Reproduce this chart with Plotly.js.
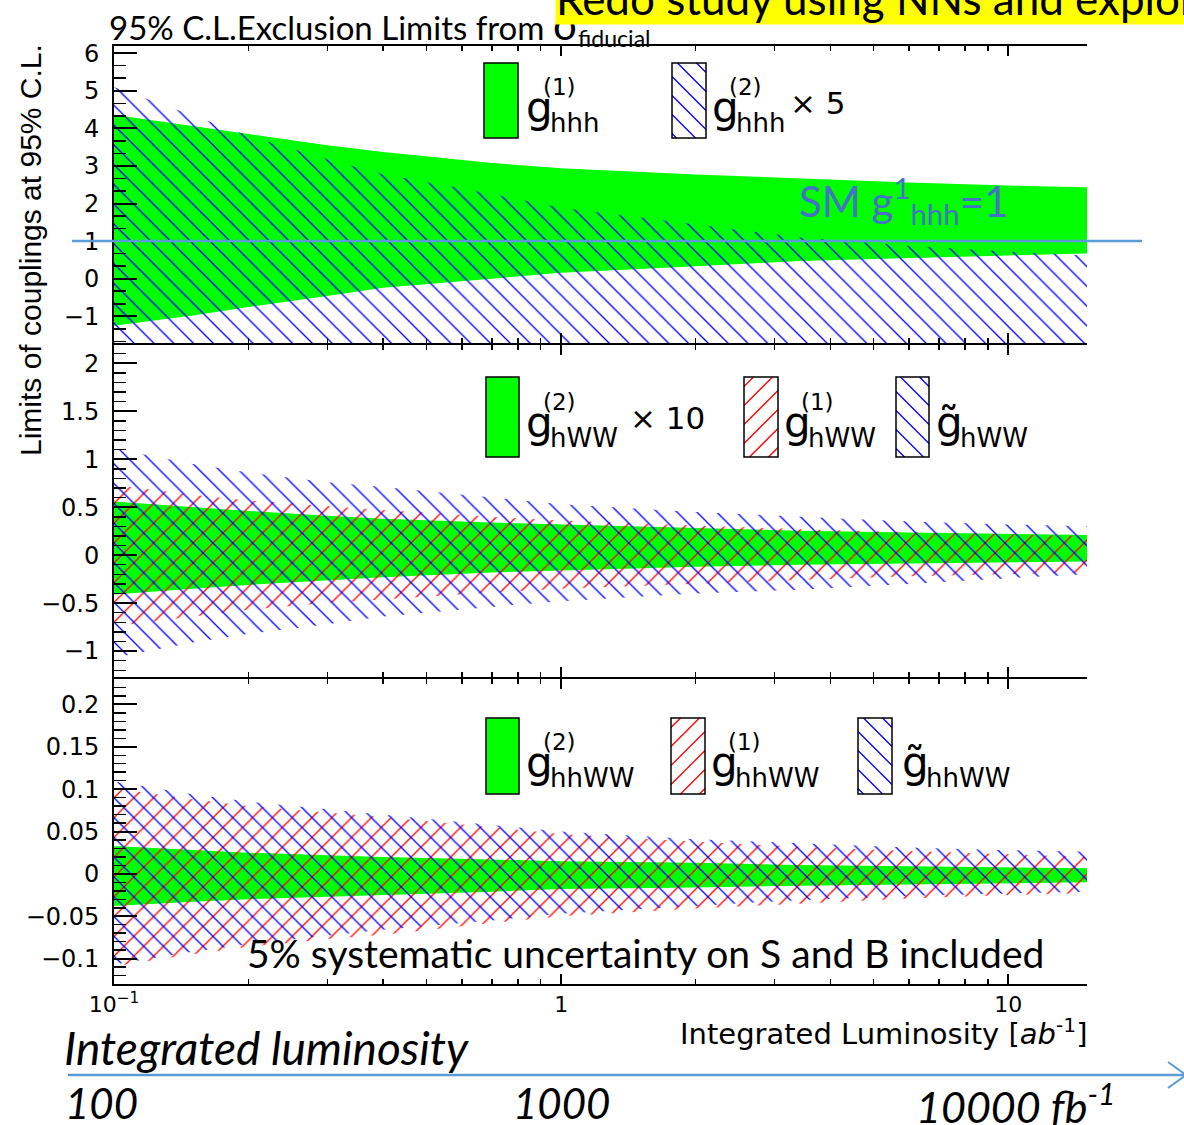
<!DOCTYPE html>
<html><head><meta charset="utf-8">
<script src="https://cdn.plot.ly/plotly-3.0.1.min.js"></script>
<style>html,body{margin:0;padding:0;background:#fff}</style>
</head><body><div id="chart" style="width:1184px;height:1125px"></div>
<script>
// ---- data (integrated luminosity in ab^-1) ----
const lumi = [0.1, 0.15, 0.2, 0.3, 0.4, 0.7, 1, 2, 3.4, 6, 10, 15];

// panel 1 : g(1)_hhh (green) and g(2)_hhh x5 (blue hatched)
const hhh1Up = [4.36, 4.07, 3.85, 3.55, 3.37, 3.08, 2.94, 2.77, 2.66, 2.56, 2.48, 2.43];
const hhh1Lo = [-1.25, -0.98, -0.75, -0.46, -0.24, 0.00, 0.16, 0.33, 0.47, 0.56, 0.62, 0.67];
const hhh2Up = [5.10, 4.35, 3.80, 3.18, 2.78, 2.25, 1.89, 1.45, 1.10, 0.88, 0.72, 0.62];
const hhh2Lo = [-2, -2, -2, -2, -2, -2, -2, -2, -2, -2, -2, -2];

// panel 2 : g(2)_hWW x10 (green), g(1)_hWW (red), g~_hWW (blue)
const hww2Up = [0.56, 0.50, 0.46, 0.41, 0.38, 0.34, 0.32, 0.28, 0.255, 0.235, 0.22, 0.21];
const hww2Lo = [-0.41, -0.35, -0.31, -0.26, -0.23, -0.18, -0.16, -0.12, -0.10, -0.085, -0.075, -0.067];
const hww1Up = [0.73, 0.63, 0.57, 0.51, 0.47, 0.40, 0.36, 0.31, 0.27, 0.24, 0.22, 0.20];
const hww1Lo = [-0.74, -0.64, -0.57, -0.50, -0.46, -0.39, -0.35, -0.30, -0.26, -0.22, -0.20, -0.18];
const hwwTUp = [1.11, 0.95, 0.86, 0.76, 0.71, 0.60, 0.53, 0.45, 0.40, 0.35, 0.32, 0.30];
const hwwTLo = [-1.07, -0.91, -0.82, -0.72, -0.64, -0.54, -0.48, -0.40, -0.36, -0.30, -0.24, -0.20];

// panel 3 : g(2)_hhWW (green), g(1)_hhWW (red), g~_hhWW (blue)
const hhww2Up = [0.033, 0.028, 0.025, 0.022, 0.020, 0.017, 0.015, 0.013, 0.0105, 0.009, 0.0075, 0.0066];
const hhww2Lo = [-0.038, -0.033, -0.030, -0.027, -0.025, -0.021, -0.018, -0.016, -0.014, -0.012, -0.011, -0.010];
const hhww1Up = [0.101, 0.088, 0.080, 0.072, 0.067, 0.055, 0.047, 0.038, 0.032, 0.027, 0.023, 0.020];
const hhww1Lo = [-0.109, -0.095, -0.086, -0.077, -0.072, -0.058, -0.050, -0.041, -0.035, -0.029, -0.025, -0.023];
const hhwwTUp = [0.109, 0.094, 0.085, 0.076, 0.070, 0.058, 0.050, 0.041, 0.036, 0.031, 0.028, 0.026];
const hhwwTLo = [-0.107, -0.092, -0.083, -0.073, -0.066, -0.055, -0.047, -0.038, -0.031, -0.026, -0.023, -0.021];

const xTickVals = [0.1, 1, 10];
const xTickText = ['10<sup>\u22121</sup>', '1', '10'];
const xMinorVals = [0.2,0.3,0.4,0.5,0.6,0.7,0.8,0.9,2,3,4,5,6,7,8,9];
const y1Ticks = [-1, 0, 1, 2, 3, 4, 5, 6];
const y2Ticks = [-1, -0.5, 0, 0.5, 1, 1.5, 2];
const y3Ticks = [-0.1, -0.05, 0, 0.05, 0.1, 0.15, 0.2];
const smCoupling = 1;

// ---- styling / layout helpers ----
const W = 1184, H = 1125, ML = 114, MR = 97, MT = 46, MB = 141;
const PW = W - ML - MR, PH = H - MT - MB;
const px = v => (v - ML) / PW;
const py = v => 1 - (v - MT) / PH;
const GREEN = '#00ff00', BLUE = '#0000ff', RED = '#ff0000';
const TICKF = {family: 'DejaVu Sans, Liberation Sans, Arial', size: 24, color: '#000'};
const CAL = 'Lato, Open Sans, sans-serif';

function band(x, up, lo, xa, ya, fill, pattern) {
  const t = {
    type: 'scatter', mode: 'lines', xaxis: xa, yaxis: ya,
    x: x.concat(x.slice().reverse()),
    y: up.concat(lo.slice().reverse()),
    fill: 'toself', line: {width: 0}, hoverinfo: 'skip', showlegend: false
  };
  if (pattern) {
    t.fillcolor = 'rgba(0,0,0,0)';
    t.fillpattern = {shape: pattern.shape, fgcolor: pattern.color, bgcolor: 'rgba(0,0,0,0)', size: 14, solidity: 0.095};
  } else {
    t.fillcolor = fill;
  }
  return t;
}
const blueHatch = {shape: '\\', color: BLUE};
const redHatch = {shape: '/', color: RED};

const data = [
  band(lumi, hhh1Up, hhh1Lo, 'x3', 'y3', GREEN),
  band(lumi, hhh2Up, hhh2Lo, 'x3', 'y3', null, blueHatch),
  band(lumi, hww2Up, hww2Lo, 'x2', 'y2', GREEN),
  band(lumi, hww1Up, hww1Lo, 'x2', 'y2', null, redHatch),
  band(lumi, hwwTUp, hwwTLo, 'x2', 'y2', null, blueHatch),
  band(lumi, hhww2Up, hhww2Lo, 'x', 'y', GREEN),
  band(lumi, hhww1Up, hhww1Lo, 'x', 'y', null, redHatch),
  band(lumi, hhwwTUp, hhwwTLo, 'x', 'y', null, blueHatch)
];

const d3 = [0, py(679)], d2 = [py(677), py(345)], d1 = [py(343), 1];
function xax(anchor, labels) {
  return {
    type: 'log', range: [-1, Math.log10(15)], anchor: anchor,
    tickvals: xTickVals, ticktext: xTickText, showticklabels: labels,
    ticks: 'inside', ticklen: 10, tickwidth: 2, tickcolor: '#000',
    mirror: 'ticks', showline: true, linecolor: '#000', linewidth: 2,
    showgrid: false, zeroline: false, tickfont: {family: TICKF.family, size: 22, color: '#000'},
    minor: {tickmode: 'array', tickvals: xMinorVals, ticks: 'inside', ticklen: 5, tickwidth: 1.5, tickcolor: '#000', showgrid: false}
  };
}
function yax(dom, range, ticks, minor, anchor, side, overlay) {
  const a = {
    domain: dom, range: range, anchor: anchor, side: side,
    tickmode: 'array', tickvals: ticks,
    ticks: 'inside', ticklen: 23, tickwidth: 2, tickcolor: '#000',
    showline: true, linecolor: '#000', linewidth: 2,
    showgrid: false, zeroline: false, tickfont: TICKF, ticklabelstandoff: 8,
    minor: {dtick: minor, tick0: 0, ticks: 'inside', ticklen: 12, tickwidth: 1.5, tickcolor: '#000', showgrid: false}
  };
  if (overlay) a.overlaying = overlay;
  return a;
}
const r1 = [-1.71, 6.19], r2 = [-1.27, 2.19], r3 = [-0.13, 0.23];

// legend swatch helpers (paper coords from pixel positions)
function hatchPath(x0, y0, x1, y1, dir, s) {
  let d = '';
  if (dir === '\\') {
    for (let c = y0 - x1 + s / 2; c < y1 - x0; c += s) {
      const xa = Math.max(x0, y0 - c), xb = Math.min(x1, y1 - c);
      if (xb > xa) d += 'M' + px(xa) + ',' + py(xa + c) + 'L' + px(xb) + ',' + py(xb + c);
    }
  } else {
    for (let c = x0 + y0 + s / 2; c < x1 + y1; c += s) {
      const xa = Math.max(x0, c - y1), xb = Math.min(x1, c - y0);
      if (xb > xa) d += 'M' + px(xa) + ',' + py(c - xa) + 'L' + px(xb) + ',' + py(c - xb);
    }
  }
  return d;
}
const shapes = [];
const annotations = [];
function swatch(x0, y0, x1, y1, kind) {
  if (kind === 'green') {
    shapes.push({type: 'rect', xref: 'paper', yref: 'paper', x0: px(x0), x1: px(x1), y0: py(y0), y1: py(y1),
      fillcolor: GREEN, line: {color: '#000', width: 1.5}});
  } else {
    const col = kind === 'red' ? RED : BLUE;
    shapes.push({type: 'path', xref: 'paper', yref: 'paper', path: hatchPath(x0, y0, x1, y1, kind === 'red' ? '/' : '\\', 19),
      line: {color: col, width: 1.3}});
    shapes.push({type: 'rect', xref: 'paper', yref: 'paper', x0: px(x0), x1: px(x1), y0: py(y0), y1: py(y1),
      line: {color: '#000', width: 1.5}});
  }
}
function glabel(x, yc, sup, sub, tilde, extra) {
  const F = 'DejaVu Sans, Liberation Sans, Arial';
  annotations.push({xref: 'paper', yref: 'paper', x: px(x), y: py(yc), xanchor: 'left', yanchor: 'middle',
    text: tilde ? 'g\u0303' : 'g', showarrow: false, font: {family: F, size: 42, color: '#000'}});
  if (sup) annotations.push({xref: 'paper', yref: 'paper', x: px(x + 17), y: py(yc - 20), xanchor: 'left', yanchor: 'middle',
    text: sup, showarrow: false, font: {family: F, size: 23, color: '#000'}});
  annotations.push({xref: 'paper', yref: 'paper', x: px(x + 24), y: py(yc + 16), xanchor: 'left', yanchor: 'middle',
    text: sub, showarrow: false, font: {family: F, size: 26, color: '#000'}});
  if (extra) annotations.push({xref: 'paper', yref: 'paper', x: px(extra[0]), y: py(yc - 4), xanchor: 'left', yanchor: 'middle',
    text: extra[1], showarrow: false, font: {family: F, size: 31, color: '#000'}});
}
// panel 1 legend
swatch(484, 63, 518, 138, 'green');  glabel(524, 107, '(1)', 'hhh', false);
swatch(672, 63, 706, 138, 'blue');   glabel(710, 107, '(2)', 'hhh', false, [788, '\u00d7 5']);
// panel 2 legend
swatch(486, 377, 519, 457, 'green'); glabel(524, 422, '(2)', 'hWW', false, [628, '\u00d7 10']);
swatch(744, 377, 778, 457, 'red');   glabel(782, 422, '(1)', 'hWW', false);
swatch(896, 377, 929, 457, 'blue');  glabel(934, 422, null, 'hWW', true);
// panel 3 legend
swatch(486, 718, 519, 794, 'green'); glabel(524, 762, '(2)', 'hhWW', false);
swatch(671, 718, 705, 794, 'red');   glabel(709, 762, '(1)', 'hhWW', false);
swatch(858, 718, 892, 794, 'blue');  glabel(900, 762, null, 'hhWW', true);

// SM reference line
shapes.push({type: 'line', xref: 'paper', yref: 'y3', x0: px(72), x1: px(1142), y0: smCoupling, y1: smCoupling,
  line: {color: '#5b9bd5', width: 2.5}});
// luminosity arrow
shapes.push({type: 'line', xref: 'paper', yref: 'paper', x0: px(68), x1: px(1184), y0: py(1075), y1: py(1075),
  line: {color: '#5b9bd5', width: 2.5}});
shapes.push({type: 'path', xref: 'paper', yref: 'paper',
  path: 'M' + px(1168) + ',' + py(1062) + 'L' + px(1186) + ',' + py(1075) + 'L' + px(1168) + ',' + py(1088),
  line: {color: '#5b9bd5', width: 2}});

annotations.push(
  {xref: 'paper', yref: 'paper', x: px(107), y: py(25), xanchor: 'left', yanchor: 'middle', showarrow: false,
   text: '95% C.L.Exclusion Limits from <span style="font-size:42px">\u03c3</span><sub>fiducial</sub>',
   font: {family: CAL, size: 33, color: '#000'}},
  {xref: 'paper', yref: 'paper', x: px(555), y: py(25), xanchor: 'left', yanchor: 'bottom', showarrow: false,
   text: 'Redo study using NNs and exploring other variables', bgcolor: '#ffff00', borderpad: 0,
   font: {family: CAL, size: 44, color: '#000'}},
  {xref: 'paper', yref: 'paper', x: px(30), y: py(250), xanchor: 'center', yanchor: 'middle', showarrow: false,
   textangle: -90, text: 'Limits of couplings at 95% C.L.',
   font: {family: 'Liberation Sans, Arial', size: 30, color: '#000'}},
  {xref: 'paper', yref: 'paper', x: px(797), y: py(200), xanchor: 'left', yanchor: 'middle', showarrow: false,
   text: 'SM g<sup>1</sup><sub>hhh</sub>=1', font: {family: CAL, size: 42, color: '#4472c4'}},
  {xref: 'paper', yref: 'paper', x: px(245), y: py(953), xanchor: 'left', yanchor: 'middle', showarrow: false,
   text: '5% systematic uncertainty on S and B included', font: {family: CAL, size: 39, color: '#000'}},
  {xref: 'paper', yref: 'paper', x: px(1090), y: py(1032), xanchor: 'right', yanchor: 'middle', showarrow: false,
   text: 'Integrated Luminosity [<i>ab</i><sup>-1</sup>]', font: {family: 'DejaVu Sans, Liberation Sans', size: 29, color: '#000'}},
  {xref: 'paper', yref: 'paper', x: px(62), y: py(1047), xanchor: 'left', yanchor: 'middle', showarrow: false,
   text: '<i>Integrated luminosity</i>', font: {family: CAL, size: 46, color: '#000'}},
  {xref: 'paper', yref: 'paper', x: px(63), y: py(1103), xanchor: 'left', yanchor: 'middle', showarrow: false,
   text: '<i>100</i>', font: {family: CAL, size: 42, color: '#000'}},
  {xref: 'paper', yref: 'paper', x: px(511), y: py(1103), xanchor: 'left', yanchor: 'middle', showarrow: false,
   text: '<i>1000</i>', font: {family: CAL, size: 42, color: '#000'}},
  {xref: 'paper', yref: 'paper', x: px(914), y: py(1103), xanchor: 'left', yanchor: 'middle', showarrow: false,
   text: '<i>10000 fb<sup>-1</sup></i>', font: {family: CAL, size: 43, color: '#000'}}
);

const layout = {
  width: W, height: H, margin: {l: ML, r: MR, t: MT, b: MB, pad: 0},
  paper_bgcolor: '#fff', plot_bgcolor: 'rgba(0,0,0,0)', showlegend: false,
  xaxis: xax('y', true), xaxis2: Object.assign(xax('y2', false), {matches: 'x'}),
  xaxis3: Object.assign(xax('y3', false), {matches: 'x'}),
  yaxis: yax(d3, r3, y3Ticks, 0.01, 'x', 'left'),
  yaxis2: yax(d2, r2, y2Ticks, 0.1, 'x2', 'left'),
  yaxis3: yax(d1, r1, y1Ticks, 1 / 3, 'x3', 'left'),
  yaxis4: yax(d3, r3, y3Ticks, 0.01, 'x', 'right', 'y'),
  yaxis5: yax(d2, r2, y2Ticks, 0.1, 'x2', 'right', 'y2'),
  yaxis6: yax(d1, r1, y1Ticks, 1 / 3, 'x3', 'right', 'y3'),
  shapes: shapes, annotations: annotations
};
Plotly.newPlot('chart', data, layout, {staticPlot: true, displayModeBar: false});
</script></body></html>
